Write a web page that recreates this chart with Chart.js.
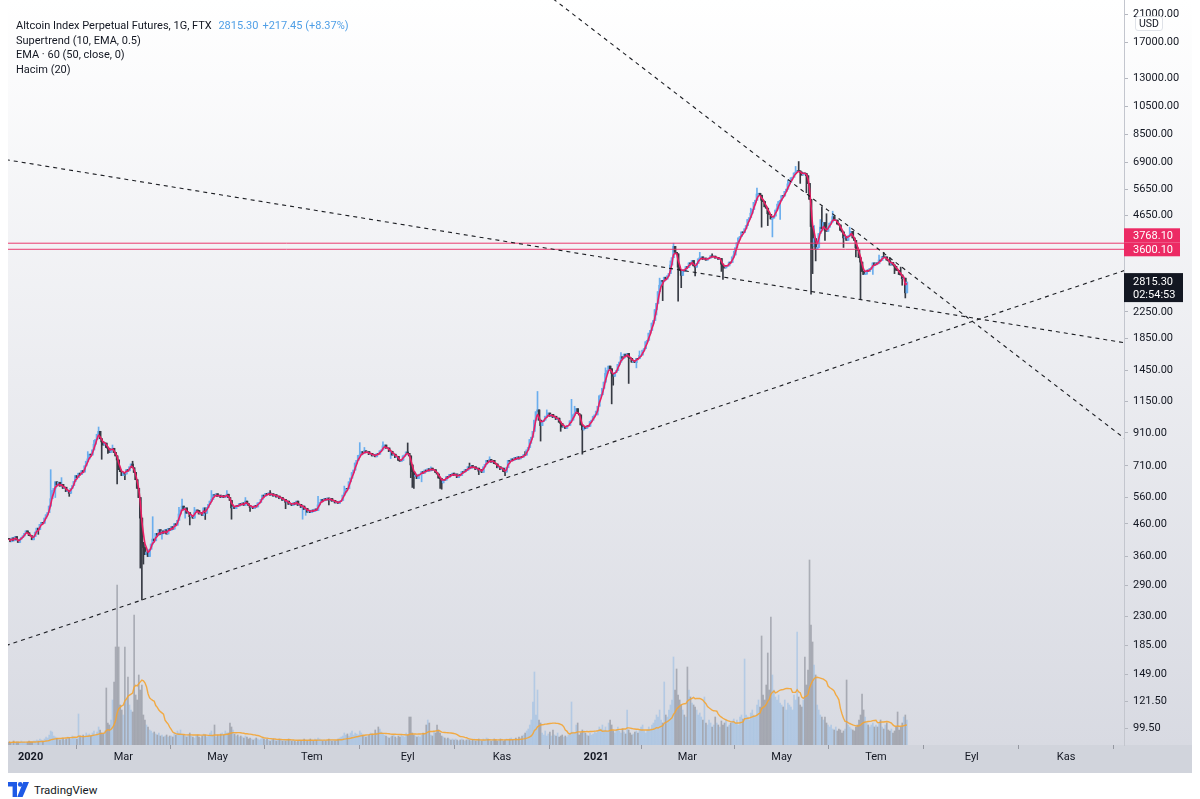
<!DOCTYPE html>
<html><head><meta charset="utf-8">
<script src="https://cdn.jsdelivr.net/npm/chart.js@4.4.1/dist/chart.umd.min.js"></script>
<style>
html,body{margin:0;padding:0;background:#fff;width:1200px;height:799px;overflow:hidden;font-family:Roboto,"Liberation Sans",sans-serif;}
#pane{position:absolute;left:8px;top:0;width:1184px;height:745px;background:linear-gradient(#ffffff,#d8dae2);}
#band{position:absolute;left:8px;top:745px;width:1184px;height:28px;background:#d1d4dc;}
#wrap{position:absolute;left:0;top:0;width:1200px;height:773px;}
#legend{position:absolute;left:16px;top:19px;font-size:11px;color:#131722;line-height:14.7px;white-space:nowrap;}
#legend .v{color:#4f9fe6;margin-left:4px;}
#usd{position:absolute;left:1135px;top:16px;width:26px;height:13px;background:#fff;border:1px solid #dfe2e8;border-radius:3px;font-size:10.5px;line-height:13px;text-align:center;color:#131722;z-index:5;}
#footer{position:absolute;left:8px;top:781px;height:17px;display:flex;align-items:center;font-size:11.5px;color:#131722;}
#footer svg{margin-right:5px;}
</style></head>
<body>
<div id="pane"></div>
<div id="band"></div>
<div id="wrap"><canvas id="c"></canvas></div>
<div id="legend">
<div>Altcoin Index Perpetual Futures, 1G, FTX <span class="v">2815.30</span><span class="v">+217.45 (+8.37%)</span></div>
<div>Supertrend (10, EMA, 0.5)</div>
<div>EMA · 60 (50, close, 0)</div>
<div>Hacim (20)</div>
</div>
<div id="usd">USD</div>
<div id="footer"><svg width="21" height="15" viewBox="0 0 21 15"><path d="M0 0H9V15H4.6V4.4H0Z" fill="#1f5ae6"/><circle cx="12.2" cy="2.4" r="2.3" fill="#1f5ae6"/><path d="M15.2 0H21L14.6 15H9.2Z" fill="#1f5ae6"/></svg>TradingView</div>
<script>
// ---- data ----
const firstDay = -14; // day index relative to 2020-01-01
const firstOpen = 412;
const closes = [
410,402,414,405,418,408,400,410,415,420,428,436,430,421,
420,408,418,432,445,440,458,465,462,480,492,500,525,555,590,600,630,615,628,610,618,600,605,585,590,578,600,612,632,660,650,
672,665,685,678,710,735,748,775,770,800,835,865,900,920,870,850,830,842,815,808,785,800,810,785,765,742,690,680,660,
676,668,690,684,705,720,700,676,640,600,560,480,400,385,365,372,360,380,395,410,405,428,422,440,425,436,428,440,426,444,438,
450,442,460,455,472,495,510,525,512,518,498,500,485,490,480,500,510,508,495,500,490,518,498,520,532,545,552,572,570,576,
564,570,560,568,560,566,574,560,548,518,522,515,528,524,535,530,538,528,545,535,528,520,524,515,528,522,538,540,552,570,565,
578,572,580,570,576,566,572,562,566,555,560,548,552,540,545,532,536,528,538,532,545,528,532,520,525,512,516,502,508,500,
510,504,514,508,530,540,552,546,556,550,558,548,556,545,548,538,542,536,545,548,570,580,600,598,630,648,675,688,725,740,768,
770,790,780,795,785,790,772,780,765,772,760,778,775,795,800,825,830,810,812,790,792,770,775,755,762,740,735,740,765,770,788,
780,765,715,680,655,662,645,665,668,680,672,688,680,695,684,698,688,690,676,668,648,645,625,640,638,655,650,665,660,672,
660,668,650,665,660,680,676,690,686,705,696,712,700,705,690,698,682,690,676,705,718,740,732,745,730,740,722,720,700,705,690,
698,680,678,700,740,735,748,740,755,745,760,748,762,758,772,770,800,815,865,880,920,1000,1065,1080,1000,960,990,1000,1030,1030,
1055,1030,1045,1020,1030,1005,1015,985,975,950,955,940,960,962,995,1000,1040,1050,1090,1050,1040,965,930,950,940,960,955,990,1000,1030,1040,
1070,1110,1200,1210,1270,1330,1420,1450,1500,1470,1420,1390,1430,1450,1520,1545,1610,1590,1640,1610,1650,1600,1590,1545,1560,1540,1590,1585,1625,1630,1690,
1710,1800,1820,1920,1960,2070,2110,2290,2400,2620,2750,2850,2830,2920,2880,2950,3000,3200,3380,3680,3520,3480,3150,3080,2960,3080,3060,3160,
3140,3250,3230,3310,3180,3150,3240,3350,3380,3400,3330,3370,3320,3360,3370,3430,3400,3420,3370,3390,3340,3360,3220,3150,3130,3190,3180,3270,3260,3400,3450,
3640,3780,3920,3960,4100,4080,4200,4300,4500,4560,4720,4850,5120,5200,5450,5480,5400,5200,5150,4950,4900,4700,4680,4520,4550,4620,4830,4900,5150,5200,
5380,5370,5560,5650,5880,5950,6150,6180,6380,6420,6500,6480,6420,6280,6380,6350,6250,5900,5237,4270,3680,3900,3600,3650,4050,4250,4200,4400,4150,4120,4250,
4380,4420,4600,4480,4480,4350,4320,4150,4100,3920,3960,3850,3980,4000,4120,3920,3850,3640,3580,3380,3270,3050,2980,2990,3080,3050,3120,3140,3250,3200,
3250,3230,3320,3310,3410,3400,3400,3320,3300,3200,3260,3200,3170,3080,3070,2980,2970,2890,2900,2598,2815.3
];
const volumes = [
3,2,3,4,2,3,3,2,4,3,3,2,3,4,
3,3,4,4,5,4,6,5,4,6,8,7,10,14,13,9,8,7,6,5,6,7,5,6,8,7,6,9,8,7,6,
31,9,8,10,9,12,10,11,9,12,14,10,13,18,15,12,11,14,57,22,20,25,45,63,98,160,98,40,35,
30,98,45,68,40,35,33,130,50,45,70,55,60,30,25,20,18,15,14,12,13,11,10,12,9,10,8,9,10,8,9,
9,8,12,10,14,12,15,11,10,9,8,10,12,9,8,7,9,10,8,7,9,11,10,8,9,12,14,10,20,8,
10,9,11,12,10,14,12,12,22,18,15,11,9,10,8,9,8,7,9,8,6,7,6,5,6,7,6,5,6,7,6,
5,6,5,4,5,6,5,4,5,6,5,4,5,4,5,6,5,4,5,4,3,4,5,4,5,6,5,4,5,6,
5,4,6,5,7,6,5,4,5,4,5,6,5,4,5,4,5,6,7,8,9,12,10,11,9,12,14,10,12,11,10,
14,12,10,9,8,9,10,12,11,10,15,12,18,16,13,11,10,9,8,7,8,9,10,8,7,9,8,10,9,8,12,
10,28,28,12,10,9,8,9,8,10,12,11,20,25,22,10,9,14,12,20,15,12,9,8,7,6,7,6,5,6,
5,6,5,4,5,6,5,4,5,6,5,4,5,6,4,5,6,5,4,6,5,7,6,5,4,5,6,5,4,5,6,
5,4,5,6,5,6,7,5,6,7,6,8,7,9,10,12,14,16,20,25,43,73,30,55,25,22,12,10,14,9,
11,13,9,15,10,9,12,8,9,10,8,9,8,10,12,43,13,12,20,22,10,12,15,14,12,10,9,12,10,11,13,
12,14,18,16,20,15,18,14,22,25,20,14,12,15,18,14,12,16,13,11,35,15,12,10,11,13,14,12,15,18,20,
14,12,15,18,16,20,22,25,30,28,35,25,22,63,30,28,35,40,45,88,55,76,50,45,40,35,30,28,
78,55,48,42,40,38,35,30,32,28,25,48,22,20,25,22,18,20,28,22,20,18,24,20,22,25,18,20,22,24,26,
22,25,20,28,30,26,86,30,28,25,32,35,30,28,40,45,38,109,50,45,60,92,55,128,70,55,48,45,50,42,
40,38,45,35,42,40,38,35,50,45,113,48,40,38,45,88,60,75,185,120,103,80,70,40,35,30,28,25,28,22,20,
18,20,16,15,18,14,16,15,12,14,16,65,20,18,16,15,14,18,20,25,30,51,35,28,22,20,18,20,22,18,
20,18,22,25,18,16,20,22,15,14,16,12,14,18,33,15,18,22,28,30,25
];
const wickHighs = [[13,690],[20,650],[37,790],[41,860],[44,950],[53,830],[66,735],[79,485],[96,520],[98,553],[106,520],[117,590],[127,590],[139,560],[155,590],[186,565],[203,610],[213,845],[216,815],[228,850],[244,843],[259,705],[284,725],[297,760],[320,790],[328,1240],[334,1080],[350,1169],[352,1110],[372,1480],[382,1660],[394,1680],[407,2900],[414,3300],[416,3768],[433,3520],[441,3480],[455,3550],[466,4900],[470,5700],[483,5050],[490,6050],[495,6700],[497,6950],[507,4300],[511,4500],[512,4950],[515,4700],[519,4790],[530,4250],[549,3450],[552,3520],[556,3380],[563,3150]];
const wickLows = [[5,425],[16,560],[25,565],[46,746],[50,780],[56,620],[61,640],[71,330],[72,260],[73,340],[85,410],[100,480],[103,456],[113,475],[130,476],[142,505],[165,515],[176,476],[178,490],[193,530],[233,750],[246,650],[247,604],[248,600],[253,630],[265,600],[266,596],[290,665],[307,660],[324,840],[330,855],[343,920],[357,775],[367,1040],[376,1130],[377,1300],[387,1317],[392,1480],[405,2200],[409,2450],[419,2440],[421,2700],[430,2950],[447,3050],[448,2875],[473,4250],[477,4300],[480,3950],[485,4500],[498,5900],[502,5500],[505,2570],[506,3000],[508,3300],[514,3850],[526,3650],[534,3400],[537,2480],[545,2980],[559,3000],[564,2750],[566,2500]];
const levels = [3768.10, 3600.10];
const lastPrice = 2815.30;
const countdown = '02:54:53';
const trendA = [[330, 25290], [708, 871]];
const trendB = [[-16, 7050], [708, 1786]];
const trendC = [[-16, 184.5], [708, 3074]];
const xTickDays = [0, 60, 121, 182, 244, 305, 366, 425, 486, 547, 609, 670];
const xTickLabels = ['2020', 'Mar', 'May', 'Tem', 'Eyl', 'Kas', '2021', 'Mar', 'May', 'Tem', 'Eyl', 'Kas'];
const yTickValues = [21000, 17000, 13000, 10500, 8500, 6900, 5650, 4650, 2250, 1850, 1450, 1150, 910, 710, 560, 460, 360, 290, 230, 185, 149, 121.5, 99.5];
const volPeriod = 20;
const emaAlpha = 0.5;

// ---- derived structures ----
const days = closes.map((_, i) => firstDay + i);
const opens = closes.map((c, i) => i === 0 ? firstOpen : closes[i - 1]);
const hiMap = new Map(wickHighs), loMap = new Map(wickLows);
const highs = days.map((d, i) => Math.max(opens[i], closes[i], hiMap.has(d) ? hiMap.get(d) : 0));
const lows = days.map((d, i) => Math.min(opens[i], closes[i], loMap.has(d) ? loMap.get(d) : Infinity));
const up = closes.map((c, i) => c >= opens[i]);
const volMA = volumes.map((v, i) => {
  const s = Math.max(0, i - volPeriod + 1);
  const w = volumes.slice(s, i + 1);
  return w.reduce((a, b) => a + b, 0) / w.length;
});
const ema = [];
closes.forEach((c, i) => ema.push(i === 0 ? c : ema[i - 1] + emaAlpha * (c - ema[i - 1])));
const UP = '#6aaeee', DOWN = '#363a43';
const FONT = 'Roboto, "Liberation Sans", sans-serif';
const line2 = (pts, color, dash, w) => ({
  type: 'line', data: pts.map(p => ({x: p[0], y: p[1]})), borderColor: color, borderWidth: w,
  borderDash: dash, pointRadius: 0, yAxisID: 'y', order: 1, tension: 0
});

const labelPlugin = {
  id: 'axisLabels',
  afterDraw(chart) {
    const ctx = chart.ctx, ys = chart.scales.y;
    const left = ys.left;
    ctx.save();
    ctx.font = '11px ' + FONT;
    ctx.textBaseline = 'middle';
    ctx.textAlign = 'left';
    const yA = ys.getPixelForValue(levels[0]);
    const yB = ys.getPixelForValue(levels[1]);
    const cB = yB, cA = Math.min(yA, cB - 14);
    ctx.fillStyle = '#ec2a64';
    ctx.fillRect(left, cA - 7, 56, 14);
    ctx.fillRect(left, cB - 7, 56, 14);
    ctx.fillStyle = '#ffffff';
    ctx.fillText(levels[0].toFixed(2), left + 9, cA + 0.5);
    ctx.fillText(levels[1].toFixed(2), left + 9, cB + 0.5);
    const yL = ys.getPixelForValue(lastPrice);
    ctx.fillStyle = '#131722';
    ctx.fillRect(left, yL - 9, 59, 29);
    ctx.fillStyle = '#ffffff';
    ctx.fillText(lastPrice.toFixed(2), left + 9, yL + 0.5);
    ctx.fillText(countdown, left + 9, yL + 13.5);
    ctx.restore();
  }
};

const datasets = [
  {type: 'bar', label: 'vol', yAxisID: 'yv', order: 10, grouped: false, barThickness: 1,
   data: days.map((d, i) => ({x: d, y: volumes[i]})),
   backgroundColor: up.map(u => u ? 'rgba(110,170,228,0.36)' : 'rgba(105,108,120,0.45)')},
  {type: 'line', label: 'volma', yAxisID: 'yv', order: 9,
   data: days.map((d, i) => ({x: d, y: volMA[i]})),
   borderColor: 'rgba(244,164,50,0.9)', borderWidth: 1.4, pointRadius: 0, tension: 0},
  {type: 'bar', label: 'wick', yAxisID: 'y', order: 5, grouped: false, barThickness: 1,
   data: days.map((d, i) => ({x: d, y: [lows[i], highs[i]]})),
   backgroundColor: up.map(u => u ? UP : DOWN)},
  {type: 'bar', label: 'body', yAxisID: 'y', order: 4, grouped: false, barThickness: 2,
   data: days.map((d, i) => ({x: d, y: [opens[i], closes[i]]})),
   backgroundColor: up.map(u => u ? UP : DOWN)},
  {type: 'line', label: 'ema', yAxisID: 'y', order: 3,
   data: days.map((d, i) => ({x: d, y: ema[i]})),
   borderColor: '#e91e63', borderWidth: 1.6, pointRadius: 0, tension: 0.2},
  ...levels.map(v => ({type: 'line', yAxisID: 'y', order: 2, data: [{x: -20, y: v}, {x: 720, y: v}],
    borderColor: '#ea3a6e', borderWidth: 1, pointRadius: 0})),
  line2(trendA, '#1b1d22', [4, 4], 1.1),
  line2(trendB, '#1b1d22', [4, 4], 1.1),
  line2(trendC, '#1b1d22', [4, 4], 1.1)
];

new Chart(document.getElementById('c'), {
  type: 'bar',
  data: {datasets},
  options: {
    responsive: true, maintainAspectRatio: false, animation: false, devicePixelRatio: 1, events: [],
    layout: {padding: {left: 8, right: 8, top: 0, bottom: 0}},
    plugins: {legend: {display: false}, tooltip: {enabled: false}},
    scales: {
      x: {
        type: 'linear', min: -14.62, max: 707.5, position: 'bottom', offset: false,
        grid: {display: true, drawOnChartArea: false, drawTicks: true, tickLength: 4, tickColor: '#9598a1'},
        border: {display: false},
        afterBuildTicks: s => { s.ticks = xTickDays.map(v => ({value: v})); },
        afterFit: s => { s.height = 28; s.paddingLeft = 0; s.paddingRight = 0; },
        ticks: {
          autoSkip: false, maxRotation: 0, padding: 2, color: '#131722',
          callback: v => xTickLabels[xTickDays.indexOf(v)],
          font: c => ({family: FONT, size: 11, weight: (c.tick && /^\d{4}$/.test(xTickLabels[xTickDays.indexOf(c.tick.value)])) ? 'bold' : 'normal'})
        }
      },
      y: {
        type: 'logarithmic', position: 'right', min: 87.6, max: 23330,
        grid: {display: true, drawOnChartArea: false, drawTicks: true, tickLength: 4, tickColor: '#b4b7bf'},
        border: {display: true, color: '#c3c6ce'},
        afterBuildTicks: s => { s.ticks = yTickValues.map(v => ({value: v})); },
        afterFit: s => { s.width = 68; s.paddingTop = 0; s.paddingBottom = 0; },
        ticks: {autoSkip: false, padding: 5, color: '#131722', font: {family: FONT, size: 11},
          callback: v => Number(v).toFixed(2)}
      },
      yv: {type: 'linear', display: false, min: 0, max: 745}
    }
  },
  plugins: [labelPlugin]
});
</script>
</body></html>
